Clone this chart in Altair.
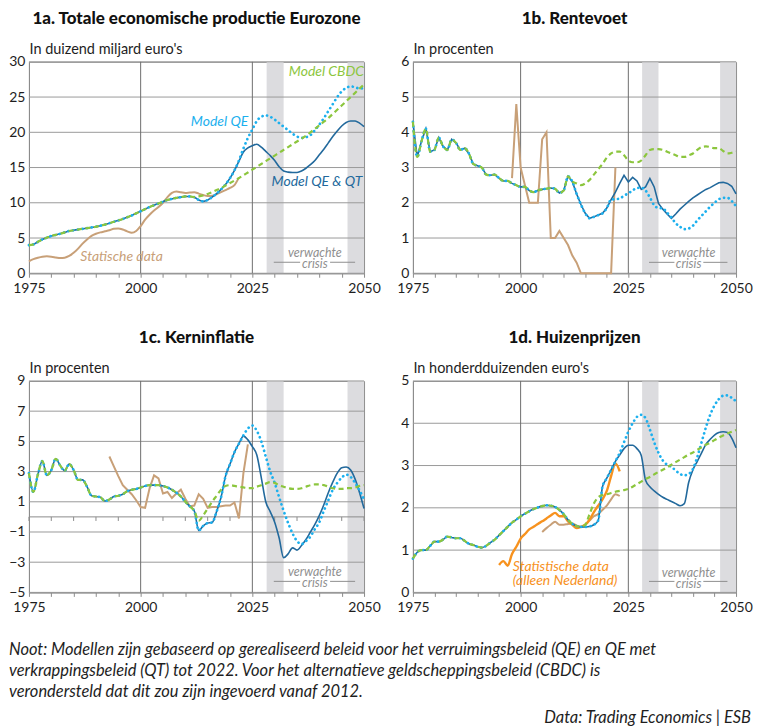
import altair as alt
import pandas as pd

FONT = "Lato"
AX = "#8c8c8c"
GRID = "#9a9a9a"
VGRID = "#6e6e6e"
TXT = "#1e1e1e"
COL_QT = "#22699c"
COL_QE = "#1cb0ee"
COL_CBDC = "#8cc63e"
COL_TAN = "#c8a078"
COL_NL = "#f7921e"
COL_CRISIS = "#8f8f8f"
BAND = "#dcdcdf"

X_TICKS = list(range(1975, 2051, 5))
X_GRID = [2000, 2025]
BAND_START = [2028.2, 2046.3]
BAND_END = [2032.0, 2050.0]

# ---------------- 1a. Totale economische productie Eurozone ----------------
A_BASE = [4.0, 4.1, 4.45, 4.8, 5.05, 5.3, 5.45, 5.6, 5.8, 6.0,
          6.1, 6.2, 6.3, 6.4, 6.5, 6.6, 6.75, 6.9, 7.1, 7.3,
          7.5, 7.7, 7.95, 8.2, 8.5, 8.8, 9.1, 9.4, 9.65, 9.9,
          10.15, 10.4, 10.55, 10.7, 10.8, 10.9, 10.9, 10.8]
A_QT = A_BASE + [10.4, 10.2, 10.4, 10.8, 11.3, 11.9, 12.6, 13.5, 14.6, 15.9,
                 17.2, 17.8, 18.1, 18.3, 17.9, 17.3, 16.7, 16.0, 15.1, 14.5,
                 14.35, 14.3, 14.3, 14.5, 14.9, 15.4, 16.0, 16.8, 17.6, 18.5,
                 19.4, 20.2, 20.9, 21.4, 21.6, 21.6, 21.3, 20.8]
A_QE = A_BASE + [10.4, 10.2, 10.4, 10.8, 11.3, 11.9, 12.6, 13.5, 14.6,
                 16.0, 17.7, 19.2, 20.4, 21.6, 22.2, 22.4, 22.2, 21.8, 21.3,
                 20.8, 20.3, 19.8, 19.4, 19.2, 19.3, 19.6, 20.3, 21.1, 22.0,
                 23.0, 24.0, 25.0, 25.8, 26.3, 26.5, 26.4, 26.2, 26.3]
A_CBDC = A_BASE + [10.9, 11.05, 11.25, 11.5, 11.8, 12.1, 12.45, 12.8, 13.15, 13.5,
                   13.9, 14.3, 14.7, 15.1, 15.5, 15.9, 16.3, 16.7, 17.1, 17.5,
                   17.9, 18.3, 18.7, 19.1, 19.5, 20.0, 20.5, 21.0, 21.5, 22.0,
                   22.6, 23.2, 23.8, 24.4, 25.0, 25.6, 26.2, 26.8]
A_TAN = [1.7, 2.0, 2.2, 2.35, 2.4, 2.35, 2.25, 2.15, 2.2, 2.45,
         2.9, 3.5, 4.2, 4.8, 5.3, 5.6, 5.8, 5.95, 6.1, 6.3,
         6.35, 6.2, 5.95, 5.75, 6.0, 6.7, 7.6, 8.3, 8.9, 9.4,
         10.0, 10.8, 11.4, 11.6, 11.5, 11.4, 11.45, 11.5, 11.3, 11.1,
         10.95, 11.0, 11.2, 11.5, 11.8, 12.1, 12.5, 13.6]

# ---------------- 1b. Rentevoet ----------------
B_BASE = [4.3, 3.3, 3.75, 4.1, 3.45, 3.5, 3.85, 3.6, 3.5, 3.8,
          3.7, 3.5, 3.55, 3.4, 3.1, 3.05, 3.0, 2.8, 2.78, 2.8,
          2.7, 2.62, 2.62, 2.55, 2.5, 2.45, 2.45, 2.35, 2.3, 2.35,
          2.38, 2.4, 2.42, 2.4, 2.28, 2.35, 2.75, 2.6]
B_QT = B_BASE + [2.25, 1.95, 1.7, 1.56, 1.6, 1.65, 1.7, 1.85, 2.09, 2.3,
                 2.55, 2.78, 2.59, 2.72, 2.62, 2.38, 2.45, 2.69, 2.45, 1.98,
                 1.82, 1.68, 1.56, 1.68, 1.82, 1.93, 2.04, 2.14, 2.22, 2.3,
                 2.38, 2.43, 2.5, 2.57, 2.58, 2.55, 2.47, 2.25]
B_QE = B_BASE + [2.25, 1.95, 1.7, 1.56, 1.6, 1.65, 1.7, 1.85, 2.09,
                 2.1, 2.12, 2.2, 2.27, 2.35, 2.42, 2.43, 2.35, 2.15, 1.93,
                 1.85, 1.84, 1.72, 1.58, 1.42, 1.32, 1.25, 1.27, 1.35, 1.5,
                 1.63, 1.76, 1.89, 2.0, 2.1, 2.14, 2.14, 2.05, 1.9]
B_CBDC = B_BASE + [2.55, 2.5, 2.55, 2.65, 2.8, 2.95, 3.1, 3.28, 3.4, 3.45,
                   3.45, 3.35, 3.2, 3.15, 3.15, 3.2, 3.35, 3.5, 3.52, 3.52,
                   3.5, 3.45, 3.4, 3.35, 3.3, 3.3, 3.35, 3.4, 3.5, 3.58,
                   3.6, 3.58, 3.55, 3.55, 3.47, 3.4, 3.42, 3.45]
B_TAN = [2.7, 4.8, 3.0, 2.5, 2.0, 2.0, 2.0, 3.8, 4.0, 1.0,
         1.0, 1.2, 1.0, 0.8, 0.5, 0.3, 0.0, 0.0, 0.0, 0.0,
         0.0, 0.0, 0.0, 0.0, 3.0]

# ---------------- 1c. Kerninflatie ----------------
C_BASE = [2.9, 1.65, 2.8, 3.7, 2.75, 3.1, 3.85, 3.4, 3.05, 3.5,
          3.1, 2.45, 2.45, 2.0, 1.4, 1.35, 1.3, 1.05, 1.15, 1.35,
          1.4, 1.5, 1.7, 1.8, 1.85, 1.95, 2.05, 2.1, 2.1, 2.1,
          2.05, 1.95, 1.8, 1.6, 1.35, 1.0, 0.7, 0.4]
C_QT = C_BASE + [-0.9, -0.6, -0.41, -0.37, 0.35, 1.3, 2.7, 3.5, 4.28, 4.85,
                 5.35, 5.1, 4.65, 4.1, 2.6, 1.0, 0.35, -0.35, -1.4, -2.7,
                 -2.45, -2.05, -2.2, -1.9, -1.5, -1.0, -0.5, 0.1, 0.8, 1.6,
                 2.3, 2.9, 3.25, 3.3, 3.1, 2.5, 1.6, 0.55]
C_QE = C_BASE + [-0.9, -0.6, -0.41, -0.37, 0.35, 1.3, 2.7, 3.5, 4.28, 4.85,
                 5.4, 5.85, 6.05, 5.7, 5.0, 4.0, 3.0, 2.25, 1.3, 0.4,
                 -0.4, -1.1, -1.6, -1.8, -1.6, -1.3, -0.8, -0.35, 0.4, 1.1,
                 1.8, 2.25, 2.6, 2.8, 2.65, 2.25, 1.75, 1.15]
C_CBDC = C_BASE + [-0.25, 0.1, 0.55, 1.0, 1.4, 1.8, 2.05, 2.1, 2.05, 2.0,
                   1.95, 1.9, 1.9, 2.0, 2.1, 2.2, 2.3, 2.25, 2.1, 2.0,
                   1.9, 1.85, 1.85, 1.9, 2.0, 2.1, 2.15, 2.15, 2.1, 2.0,
                   1.9, 1.85, 1.85, 1.9, 1.9, 1.95, 2.05, 2.1]
C_TAN = [4.0, 3.35, 2.7, 2.1, 1.8, 1.5, 1.1,
         0.65, 0.6, 1.9, 2.75, 2.55, 1.55, 1.65, 1.25, 1.55, 1.8,
         1.2, 0.7, 0.75, 1.5, 1.2, 0.6, 0.65, 0.65, 0.7, 0.75,
         0.75, 0.95, -0.1, 2.9, 4.8]

# ---------------- 1d. Huizenprijzen ----------------
D_BASE = [0.8, 0.95, 1.0, 1.0, 1.1, 1.2, 1.2, 1.25, 1.32, 1.3,
          1.28, 1.28, 1.22, 1.15, 1.12, 1.08, 1.06, 1.1, 1.18, 1.25,
          1.35, 1.45, 1.55, 1.65, 1.72, 1.8, 1.86, 1.92, 1.97, 2.01,
          2.04, 2.06, 2.05, 2.02, 1.95, 1.85, 1.72, 1.62, 1.57, 1.55]
D_QT = D_BASE + [1.55, 1.56, 1.6, 1.7, 2.5, 2.7, 2.9, 3.1, 3.25, 3.4,
                 3.48, 3.48, 3.4, 3.24, 2.65, 2.5, 2.4, 2.32, 2.25, 2.2,
                 2.15, 2.1, 2.05, 2.1, 2.6, 2.9, 3.1, 3.3, 3.5, 3.62,
                 3.72, 3.78, 3.8, 3.78, 3.65, 3.42]
D_QE = D_BASE + [1.55, 1.56, 1.6, 1.7, 2.5, 2.7, 2.9, 3.1,
                 3.3, 3.55, 3.8, 4.0, 4.15, 4.2, 4.12, 3.85, 3.55, 3.3,
                 3.12, 3.02, 2.97, 2.88, 2.8, 2.77, 2.8, 2.92, 3.2, 3.55,
                 3.9, 4.2, 4.42, 4.57, 4.65, 4.66, 4.6, 4.52]
D_CBDC = D_BASE + [1.6, 1.85, 2.1, 2.25, 2.3, 2.32, 2.35, 2.38, 2.4, 2.42,
                   2.45, 2.5, 2.56, 2.62, 2.68, 2.73, 2.79, 2.85, 2.9, 2.96,
                   3.02, 3.08, 3.14, 3.2, 3.26, 3.31, 3.37, 3.43, 3.49, 3.54,
                   3.6, 3.66, 3.71, 3.76, 3.8, 3.84]
D_TAN = [1.43, 1.52, 1.6, 1.67, 1.6, 1.6, 1.62, 1.63, 1.58, 1.55,
         1.6, 1.7, 1.8, 1.85, 1.95, 2.05, 2.2, 2.32, 2.28]
D_NL = [0.65, 0.74, 0.63, 0.91, 1.08, 1.27, 1.38, 1.49, 1.55, 1.62,
        1.68, 1.75, 1.82, 1.88, 1.8, 1.8, 1.68, 1.6, 1.52, 1.55,
        1.6, 1.72, 1.9, 2.05, 2.2, 2.4, 2.75, 3.05, 2.86]

NOTE_LINES = [
    "Noot: Modellen zijn gebaseerd op gerealiseerd beleid voor het verruimingsbeleid (QE) en QE met",
    "verkrappingsbeleid (QT) tot 2022. Voor het alternatieve geldscheppingsbeleid (CBDC) is",
    "verondersteld dat dit zou zijn ingevoerd vanaf 2012.",
]
SOURCE = "Data: Trading Economics | ESB"

STYLES = {
    "tan": dict(color=COL_TAN, strokeWidth=2.0),
    "nl": dict(color=COL_NL, strokeWidth=2.4),
    "qt": dict(color=COL_QT, strokeWidth=1.6),
    "qe": dict(color=COL_QE, strokeWidth=2.7, strokeDash=[0.1, 4.6], strokeCap="round"),
    "cbdc": dict(color=COL_CBDC, strokeWidth=2.2, strokeDash=[5, 3.5]),
}

W_LEFT, W_RIGHT, H = 336, 324, 212


def panel(title, ytitle, ydom, yticks, lines, texts, crisis_y, interp, width, zero_line=False):
    xs = alt.Scale(domain=[1975, 2050], nice=False, zero=False)
    ys = alt.Scale(domain=ydom, nice=False, zero=False)
    xaxis = alt.Axis(values=X_TICKS, title=None, grid=False,
                     labelExpr="datum.value % 25 === 0 ? '' + datum.value : ''",
                     labelFlush=False, labelOverlap=False, labelBound=False,
                     tickSize=4, tickColor=AX, domainColor=AX,
                     labelFont=FONT, labelFontSize=14, labelColor=TXT, labelPadding=4)
    yaxis = alt.Axis(values=yticks, title=ytitle, grid=False, ticks=False,
                     domainColor=AX, labelFont=FONT, labelFontSize=14, labelColor=TXT,
                     labelPadding=4, titleAngle=0, titleAlign="left", titleBaseline="alphabetic",
                     titleX=0, titleY=-8, titleFont=FONT, titleFontSize=14.5,
                     titleFontWeight="normal", titleColor=TXT)

    def X(field):
        return alt.X(field, scale=xs, axis=xaxis)

    def Y(field):
        return alt.Y(field, scale=ys, axis=yaxis)

    layers = []
    layers.append(alt.Chart(pd.DataFrame({"start": BAND_START, "end": BAND_END}))
                  .mark_rect(color=BAND)
                  .encode(x=X("start:Q"), x2="end:Q"))
    layers.append(alt.Chart(pd.DataFrame({"v": yticks}))
                  .mark_rule(color=GRID, strokeWidth=1)
                  .encode(y=Y("v:Q")))
    layers.append(alt.Chart(pd.DataFrame({"x": X_GRID}))
                  .mark_rule(color=VGRID, strokeWidth=1)
                  .encode(x=X("x:Q")))
    if zero_line:
        layers.append(alt.Chart(pd.DataFrame({"v": [0]}))
                      .mark_rule(color=AX, strokeWidth=1)
                      .encode(y=Y("v:Q")))
        layers.append(alt.Chart(pd.DataFrame({"x": X_TICKS, "y0": [0] * len(X_TICKS),
                                              "y1": [-0.27] * len(X_TICKS)}))
                      .mark_rule(color=AX, strokeWidth=1)
                      .encode(x=X("x:Q"), y=Y("y0:Q"), y2="y1:Q"))
    for key, start, vals in lines:
        df = pd.DataFrame({"year": list(range(start, start + len(vals))), "value": vals})
        ip = interp.get(key, "monotone") if isinstance(interp, dict) else interp
        layers.append(alt.Chart(df).mark_line(interpolate=ip, **STYLES[key])
                      .encode(x=X("year:Q"), y=Y("value:Q")))
    for t in texts:
        layers.append(alt.Chart(pd.DataFrame([t]))
                      .mark_text(align=t["align"], baseline="middle", font=FONT,
                                 fontStyle="italic", fontSize=14, color=t["color"])
                      .encode(x=X("x:Q"), y=Y("y:Q"), text="text:N"))
    vy, ly, cy = crisis_y
    ctext = pd.DataFrame({"x": [2039.0, 2039.0], "y": [vy, cy], "text": ["verwachte", "crisis"]})
    layers.append(alt.Chart(ctext).mark_text(align="center", baseline="middle", font=FONT,
                                            fontStyle="italic", fontSize=12.5, color=COL_CRISIS)
                  .encode(x=X("x:Q"), y=Y("y:Q"), text="text:N"))
    cline = pd.DataFrame({"x": [2029.8, 2042.4], "x2": [2035.7, 2048.0], "y": [ly, ly]})
    layers.append(alt.Chart(cline).mark_rule(color=COL_CRISIS, strokeWidth=1)
                  .encode(x=X("x:Q"), x2="x2:Q", y=Y("y:Q")))
    return alt.layer(*layers).properties(
        width=width, height=H,
        view=alt.ViewBackground(stroke=AX, strokeWidth=1),
        title=alt.TitleParams(text=title, font=FONT, fontSize=17, fontWeight=900,
                              color="#111111", anchor="middle", offset=14),
    )


p1a = panel("1a. Totale economische productie Eurozone", "In duizend miljard euro's",
            [0, 30], [0, 5, 10, 15, 20, 25, 30],
            [("tan", 1975, A_TAN), ("qt", 1975, A_QT), ("qe", 1975, A_QE), ("cbdc", 1975, A_CBDC)],
            [dict(x=2050, y=28.6, text="Model CBDC", color=COL_CBDC, align="right"),
             dict(x=2024.1, y=21.5, text="Model QE", color=COL_QE, align="right"),
             dict(x=2049.6, y=13.0, text="Model QE & QT", color=COL_QT, align="right"),
             dict(x=1986.5, y=2.25, text="Statische data", color=COL_TAN, align="left")],
            (2.83, 1.56, 1.27), "monotone", W_LEFT)

p1b = panel("1b. Rentevoet", "In procenten", [0, 6], [0, 1, 2, 3, 4, 5, 6],
            [("tan", 1998, B_TAN), ("qt", 1975, B_QT), ("qe", 1975, B_QE), ("cbdc", 1975, B_CBDC)],
            [], (0.57, 0.31, 0.25), {"tan": "linear", "qt": "linear", "qe": "monotone", "cbdc": "monotone"},
            W_RIGHT)

p1c = panel("1c. Kerninflatie", "In procenten", [-5, 9], [-5, -3, -1, 1, 3, 5, 7, 9],
            [("tan", 1993, C_TAN), ("qt", 1975, C_QT), ("qe", 1975, C_QE), ("cbdc", 1975, C_CBDC)],
            [], (-3.68, -4.27, -4.41), {"tan": "linear", "qt": "monotone", "qe": "monotone", "cbdc": "monotone"},
            W_LEFT, zero_line=True)

p1d = panel("1d. Huizenprijzen", "In honderdduizenden euro's", [0, 5], [0, 1, 2, 3, 4, 5],
            [("tan", 2005, D_TAN), ("nl", 1995, D_NL), ("qt", 1975, D_QT), ("qe", 1975, D_QE),
             ("cbdc", 1975, D_CBDC)],
            [dict(x=1998.2, y=0.59, text="Statistische data", color=COL_NL, align="left"),
             dict(x=1998.2, y=0.26, text="(alleen Nederland)", color=COL_NL, align="left")],
            (0.47, 0.26, 0.21), "monotone", W_RIGHT)

foot_scale = alt.Scale(domain=[0, 3.4], range=[0, 71.4])
note = alt.Chart(pd.DataFrame({"row": [0, 1, 2], "text": NOTE_LINES})).mark_text(
    align="left", baseline="middle", font=FONT, fontStyle="italic", fontSize=16.5, color=TXT
).encode(x=alt.value(-20), y=alt.Y("row:Q", scale=foot_scale, axis=None), text="text:N")
src = alt.Chart(pd.DataFrame({"row": [3.24], "text": [SOURCE]})).mark_text(
    align="right", baseline="middle", font=FONT, fontStyle="italic", fontSize=16.5, color=TXT
).encode(x=alt.value(724), y=alt.Y("row:Q", scale=foot_scale, axis=None), text="text:N")
foot = alt.layer(note, src).properties(width=700, height=60,
                                      view=alt.ViewBackground(stroke="transparent"))

top = alt.hconcat(p1a, p1b, spacing=15)
bottom = alt.hconcat(p1c, p1d, spacing=15)
grid = alt.vconcat(top, bottom, spacing=32)
chart = alt.vconcat(grid, foot, spacing=26).properties(
    padding={"left": 0, "top": 0, "right": 0, "bottom": 0}
).configure_view(stroke="transparent").configure(font=FONT)

chart.save("out.html", embed_options={"renderer": "svg", "actions": False})
